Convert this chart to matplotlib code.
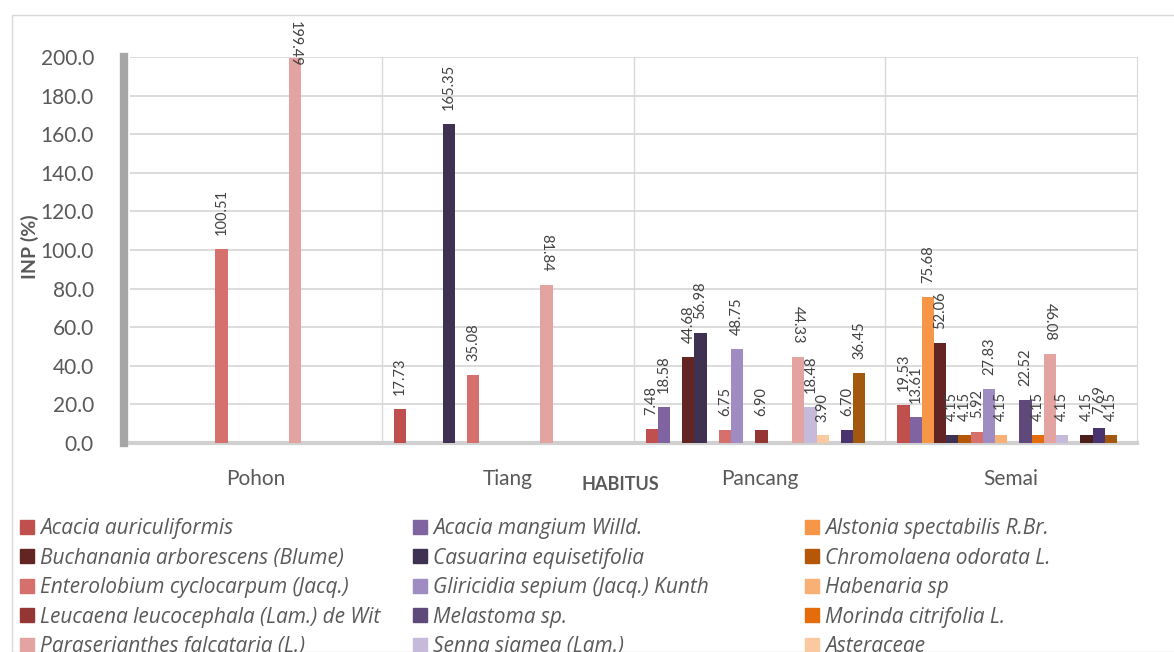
#!/usr/bin/env python3
"""INP (%) per species for each habitus level, grouped bar chart."""
import matplotlib

matplotlib.use("Agg")
import matplotlib.pyplot as plt
from matplotlib.patches import Patch, Rectangle


HABITUS = ["Pohon", "Tiang", "Pancang", "Semai"]

SPECIES = [
    "Acacia auriculiformis",
    "Acacia mangium Willd.",
    "Alstonia spectabilis R.Br.",
    "Buchanania arborescens (Blume)",
    "Casuarina equisetifolia",
    "Chromolaena odorata L.",
    "Enterolobium cyclocarpum (Jacq.)",
    "Gliricidia sepium (Jacq.) Kunth",
    "Habenaria sp",
    "Leucaena leucocephala (Lam.) de Wit",
    "Melastoma sp.",
    "Morinda citrifolia L.",
    "Paraserianthes falcataria (L.)",
    "Senna siamea (Lam.)",
    "Asteraceae",
    "",
    "",
    "",
]

# INP values per species, order: Pohon, Tiang, Pancang, Semai (0 = absent)
INP = [
    [0, 17.73, 7.48, 19.53],
    [0, 0, 18.58, 13.61],
    [0, 0, 0, 75.68],
    [0, 0, 44.68, 52.06],
    [0, 165.35, 56.98, 4.15],
    [0, 0, 0, 4.15],
    [100.51, 35.08, 6.75, 5.92],
    [0, 0, 48.75, 27.83],
    [0, 0, 0, 4.15],
    [0, 0, 6.90, 0],
    [0, 0, 0, 22.52],
    [0, 0, 0, 4.15],
    [199.49, 81.84, 44.33, 46.08],
    [0, 0, 18.48, 4.15],
    [0, 0, 3.90, 0],
    [0, 0, 0, 4.15],
    [0, 0, 6.70, 7.69],
    [0, 0, 36.45, 4.15],
]

COLORS = [
    "#C0504D", "#8064A2", "#F79646", "#632523", "#3F3151", "#B65708",
    "#D5706D", "#9E8CC2", "#F9B074", "#943634", "#5F497A", "#E46C0A",
    "#E3A3A1", "#C5BAD9", "#FAC9A0", "#4B1E1C", "#4A3470", "#A3580F",
]

W, H = 1174, 652
TEXT = "#595959"


def main():
    plt.rcParams["font.family"] = ["Lato", "DejaVu Sans"]
    fig = plt.figure(figsize=(W / 100, H / 100), dpi=100)
    ax = fig.add_axes([130 / W, 1 - 443 / H, 1007 / W, 386 / H])

    # outer chart border
    fig.add_artist(Rectangle((12 / W, 0), 1.2, 1 - 15 / H, transform=fig.transFigure,
                             fill=False, edgecolor="#D9D9D9", linewidth=1.0))

    width = 0.0485
    lead = 0.048
    for j, vals in enumerate(INP):
        xs = [i - 0.5 + lead + (j + 0.5) * width for i in range(len(HABITUS))]
        ax.bar(xs, vals, width=width, color=COLORS[j], zorder=3)
        for x, v in zip(xs, vals):
            if v <= 0:
                continue
            rot = 270 if j == 12 else 90
            # labels that would leave the chart are pulled back down over the bar
            dy = 10 if v < 190 else -6.5
            ax.annotate(f"{v:.2f}", xy=(x, v), xytext=(0, dy), textcoords="offset points",
                        ha="center", va="bottom", rotation=rot, fontsize=10.5,
                        color="#404040", annotation_clip=False, zorder=4)

    ax.set_xlim(-0.5, 3.5)
    ax.set_ylim(0, 200)
    ax.set_yticks(range(0, 201, 20))
    ax.set_yticklabels([f"{t:.1f}" for t in range(0, 201, 20)])
    ax.set_xticks(range(len(HABITUS)))
    ax.set_xticklabels(HABITUS)
    ax.tick_params(axis="both", length=0, labelsize=15, colors=TEXT)
    ax.tick_params(axis="y", pad=22)
    ax.tick_params(axis="x", pad=19)

    ax.grid(True, axis="y", color="#D9D9D9", linewidth=1.3, zorder=0)
    for b in [0.5, 1.5, 2.5]:
        ax.axvline(b, color="#D9D9D9", linewidth=1.0, zorder=0)

    ax.spines["top"].set_visible(False)
    ax.spines["right"].set_color("#D9D9D9")
    ax.spines["left"].set_color("#A6A6A6")
    ax.spines["left"].set_linewidth(6)
    ax.spines["left"].set_position(("outward", 4))
    ax.spines["bottom"].set_color("#D0D0D0")
    ax.spines["bottom"].set_linewidth(3)

    fig.text(30 / W, 1 - 247 / H, "INP (%)", rotation=90, ha="center", va="center",
             fontsize=14, fontweight="bold", color=TEXT)
    fig.text(620 / W, 1 - 485 / H, "HABITUS", ha="center", va="center",
             fontsize=13, fontweight="bold", color=TEXT)

    # legend: three columns of five, the bottom row runs off the figure
    col_x = [20, 413, 805]
    for c in range(3):
        handles = [Patch(color=COLORS[c + 3 * r], label=SPECIES[c + 3 * r]) for r in range(5)]
        fig.legend(handles=handles, loc="upper left", bbox_to_anchor=(col_x[c] / W, 1 - 518 / H),
                   frameon=False, prop={"family": ["Open Sans", "DejaVu Sans"],
                                        "style": "italic", "size": 15},
                   handlelength=0.65, handleheight=0.65, handletextpad=0.3,
                   labelspacing=0.41, labelcolor=TEXT, borderaxespad=0, borderpad=0)

    fig.savefig("out.png", dpi=100)
    plt.close(fig)


if __name__ == "__main__":
    main()
